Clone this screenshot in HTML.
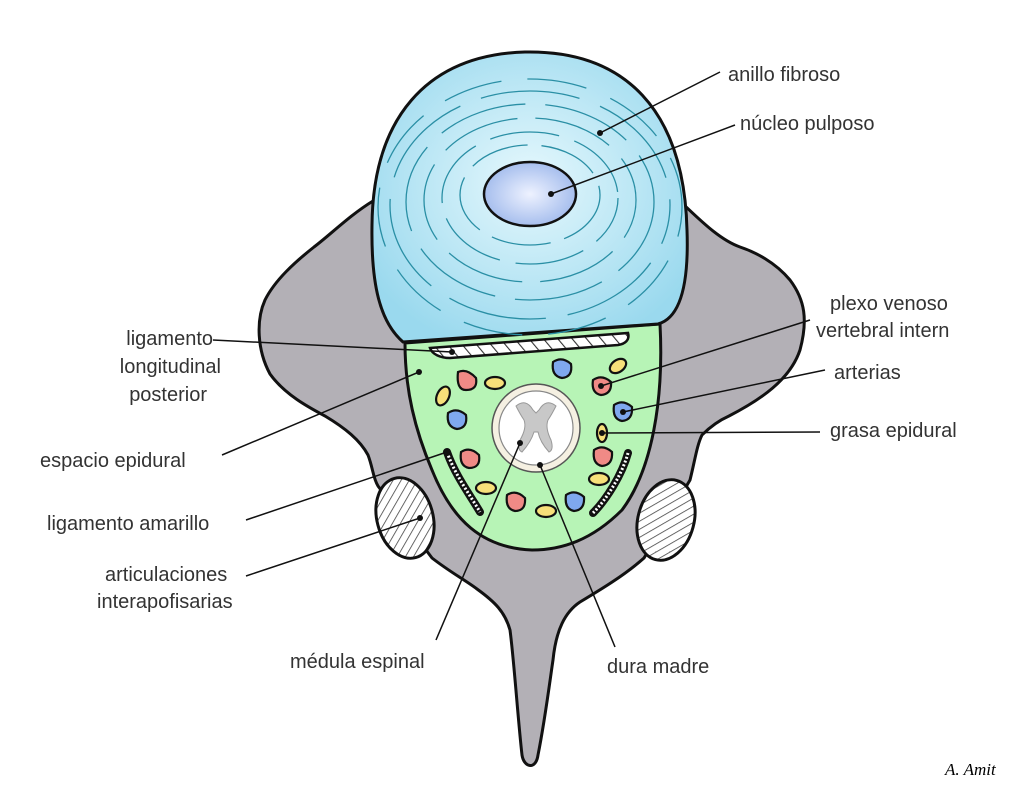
<!DOCTYPE html>
<html><head><meta charset="utf-8"><style>
html,body{margin:0;padding:0;background:#fff;}
svg{display:block}
text{font-family:"Liberation Sans",sans-serif;font-size:20px;fill:#333;}
</style></head><body>
<svg width="1023" height="794" viewBox="0 0 1023 794" xmlns="http://www.w3.org/2000/svg">
<defs>
<pattern id="h" width="7" height="7" patternUnits="userSpaceOnUse" patternTransform="rotate(45)">
<rect width="7" height="7" fill="#fff"/><line x1="0" y1="0" x2="0" y2="7" stroke="#444" stroke-width="1.6"/></pattern>
<pattern id="h2" width="11" height="11" patternUnits="userSpaceOnUse" patternTransform="rotate(-40)">
<rect width="11" height="11" fill="#fff"/><line x1="0" y1="0" x2="0" y2="11" stroke="#333" stroke-width="2.2"/></pattern>
<radialGradient id="disc" cx="0.5" cy="0.45" r="0.6"><stop offset="0" stop-color="#e6f8fd"/><stop offset="1" stop-color="#9ad9ee"/></radialGradient>
<radialGradient id="nuc" cx="0.5" cy="0.5" r="0.6"><stop offset="0" stop-color="#eef2ff"/><stop offset="1" stop-color="#98b4ea"/></radialGradient>
</defs>
<!-- vertebra -->
<path d="M373,201 C350,215 330,235 314,247 C295,262 275,280 265,300 C256,320 257,350 270,374 C285,395 310,408 325,416 C345,428 360,440 368,455 C373,468 373,478 378,486 L432,558 C450,572 465,580 477,589 C495,602 505,612 510,630 C514,660 518,720 522,755 C524,768 536,770 538,755 C545,720 550,680 553,660 C556,630 565,612 580,602 C600,590 625,575 644,558 L690,480 C695,460 697,445 702,435 C712,425 720,420 729,416 C760,400 790,380 800,350 C808,320 805,300 790,280 C775,262 755,252 740,247 C720,240 700,220 684,205 Z" fill="#b3b0b6" stroke="#111" stroke-width="3"/>
<!-- articulations -->
<ellipse cx="405" cy="518" rx="28" ry="41" transform="rotate(-15 405 518)" fill="url(#h)" stroke="#111" stroke-width="3"/>
<ellipse cx="666" cy="520" rx="28" ry="41" transform="rotate(15 666 520)" fill="url(#h)" stroke="#111" stroke-width="3"/>
<!-- canal -->
<path d="M405,343 L660,324 C664,400 652,470 622,510 C592,540 562,550 532,550 C482,548 452,520 432,470 C415,430 405,390 405,343 Z" fill="#b7f4b6" stroke="#111" stroke-width="3"/>
<!-- disc -->
<path d="M403,342 C380,322 371,285 372,225 C373,120 425,55 525,52 C625,50 684,110 687,230 C689,285 680,318 658,324 Z" fill="url(#disc)" stroke="#111" stroke-width="3"/>
<g fill="none" stroke="#2a8fa5" stroke-width="1.3">
<ellipse cx="530" cy="195" rx="70" ry="50" stroke-dasharray="60 14"/>
<ellipse cx="530" cy="198" rx="88" ry="66" stroke-dasharray="70 16" stroke-dashoffset="20"/>
<ellipse cx="530" cy="200" rx="106" ry="82" stroke-dasharray="80 18" stroke-dashoffset="40"/>
<ellipse cx="530" cy="202" rx="124" ry="98" stroke-dasharray="90 20" stroke-dashoffset="10"/>
<ellipse cx="530" cy="205" rx="140" ry="114" stroke-dasharray="100 22" stroke-dashoffset="60"/>
<ellipse cx="530" cy="207" rx="152" ry="128" stroke-dasharray="60 26" stroke-dashoffset="30"/>
</g>
<ellipse cx="530" cy="194" rx="46" ry="32" fill="url(#nuc)" stroke="#111" stroke-width="2.5"/>
<!-- posterior ligament -->
<path d="M430,348 L628,333 C630,340 625,344 618,345 L450,358 C440,358 432,354 430,348 Z" fill="url(#h2)" stroke="#111" stroke-width="2.5"/>
<!-- ligamentum flavum -->
<path d="M447,452 C455,475 470,495 480,512" fill="none" stroke="#111" stroke-width="8" stroke-linecap="round"/>
<path d="M447,452 C455,475 470,495 480,512" fill="none" stroke="#fff" stroke-width="3" stroke-dasharray="2 2"/>
<path d="M628,453 C622,475 606,500 593,513" fill="none" stroke="#111" stroke-width="8" stroke-linecap="round"/>
<path d="M628,453 C622,475 606,500 593,513" fill="none" stroke="#fff" stroke-width="3" stroke-dasharray="2 2"/>
<!-- vessels -->
<g stroke="#111" stroke-width="2.2">
<g fill="#f08a86">
<path d="M458,372 Q467,368 476,378 Q478,390 466,390 Q456,390 458,372Z"/>
<path d="M593,380 Q602,374 611,382 Q612,394 601,395 Q591,393 593,380Z"/>
<path d="M461,452 Q470,446 479,455 Q481,468 469,468 Q459,466 461,452Z"/>
<path d="M594,450 Q603,444 612,452 Q613,465 602,466 Q592,464 594,450Z"/>
<path d="M507,495 Q516,489 525,498 Q526,511 515,511 Q505,509 507,495Z"/>
</g>
<g fill="#7fa8ee">
<path d="M553,362 Q562,356 571,364 Q573,377 562,378 Q551,376 553,362Z"/>
<path d="M448,413 Q457,407 466,415 Q468,428 457,429 Q446,427 448,413Z"/>
<path d="M614,405 Q623,399 632,407 Q633,420 622,421 Q612,419 614,405Z"/>
<path d="M566,495 Q575,489 584,497 Q585,510 574,511 Q564,509 566,495Z"/>
</g>
<g fill="#f7e07a">
<ellipse cx="618" cy="366" rx="9" ry="6" transform="rotate(-35 618 366)"/>
<ellipse cx="495" cy="383" rx="10" ry="6"/>
<ellipse cx="443" cy="396" rx="6" ry="10" transform="rotate(25 443 396)"/>
<ellipse cx="602" cy="433" rx="5" ry="9"/>
<ellipse cx="486" cy="488" rx="10" ry="6"/>
<ellipse cx="599" cy="479" rx="10" ry="6"/>
<ellipse cx="546" cy="511" rx="10" ry="6"/>
</g>
</g>
<!-- spinal cord -->
<circle cx="536" cy="428" r="44" fill="#f5f0e2" stroke="#555" stroke-width="1.5"/>
<circle cx="536" cy="428" r="37" fill="#fff" stroke="#888" stroke-width="1.2"/>
<path d="M516,406 Q526,398 533,410 L536,413 L539,410 Q546,398 556,406 Q552,414 548,420 Q545,428 551,440 Q554,450 549,452 Q540,442 538,432 L534,432 Q531,442 522,452 Q517,450 520,440 Q527,428 524,420 Q520,414 516,406Z" fill="#c8c8c8" stroke="#999" stroke-width="1"/>
<!-- leader lines -->
<g stroke="#111" stroke-width="1.5" fill="none">
<line x1="600" y1="133" x2="720" y2="72"/>
<line x1="551" y1="194" x2="735" y2="125"/>
<line x1="601" y1="386" x2="810" y2="320"/>
<line x1="623" y1="412" x2="825" y2="370"/>
<line x1="602" y1="433" x2="820" y2="432"/>
<line x1="213" y1="340" x2="452" y2="352"/>
<line x1="222" y1="455" x2="419" y2="372"/>
<line x1="246" y1="520" x2="447" y2="452"/>
<line x1="246" y1="576" x2="420" y2="518"/>
<line x1="436" y1="640" x2="520" y2="443"/>
<line x1="615" y1="647" x2="540" y2="465"/>
</g>
<g fill="#111">
<circle cx="600" cy="133" r="3"/><circle cx="551" cy="194" r="3"/><circle cx="601" cy="386" r="3"/>
<circle cx="623" cy="412" r="3"/><circle cx="602" cy="433" r="3"/><circle cx="452" cy="352" r="3"/>
<circle cx="419" cy="372" r="3"/><circle cx="447" cy="452" r="3"/><circle cx="420" cy="518" r="3"/>
<circle cx="520" cy="443" r="3"/><circle cx="540" cy="465" r="3"/>
</g>
<!-- labels -->
<text x="728" y="81">anillo fibroso</text>
<text x="740" y="130">núcleo pulposo</text>
<text x="830" y="310">plexo venoso</text>
<text x="816" y="337">vertebral intern</text>
<text x="834" y="379">arterias</text>
<text x="830" y="437">grasa epidural</text>
<text x="213" y="345" text-anchor="end">ligamento</text>
<text x="221" y="373" text-anchor="end">longitudinal</text>
<text x="207" y="401" text-anchor="end">posterior</text>
<text x="40" y="467">espacio epidural</text>
<text x="47" y="530">ligamento amarillo</text>
<text x="105" y="581">articulaciones</text>
<text x="97" y="608">interapofisarias</text>
<text x="290" y="668">médula espinal</text>
<text x="607" y="673">dura madre</text>
<text x="945" y="775" style="font-family:'Liberation Serif',serif;font-style:italic;font-size:17px;fill:#000">A. Amit</text>
</svg>
</body></html>
